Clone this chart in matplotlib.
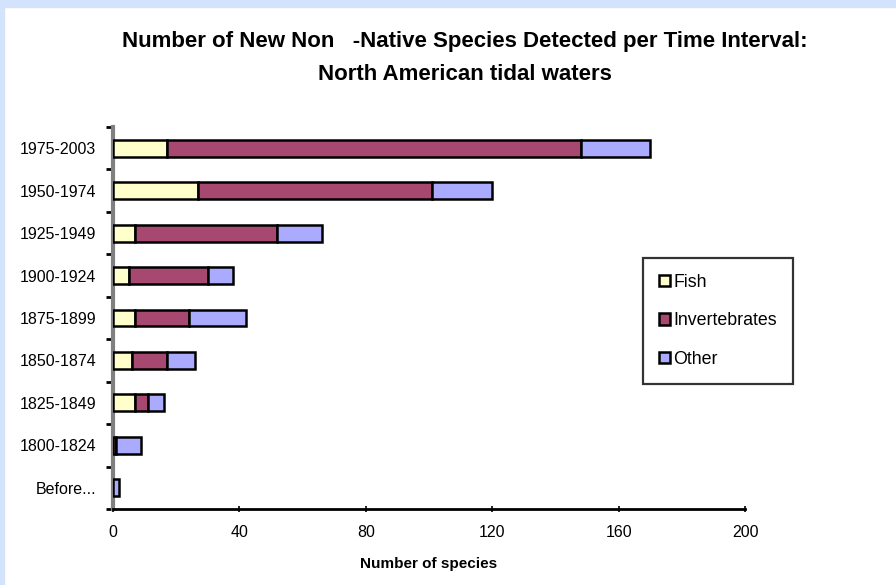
import matplotlib
matplotlib.use("Agg")
import matplotlib.pyplot as plt
from matplotlib.patches import Rectangle
import numpy as np

plt.rcParams['font.family'] = ['Liberation Sans', 'DejaVu Sans']

# data (top to bottom)
periods = ["1975-2003", "1950-1974", "1925-1949", "1900-1924", "1875-1899",
           "1850-1874", "1825-1849", "1800-1824", "Before..."]
fish = [17, 27, 7, 5, 7, 6, 7, 0, 0]
invertebrates = [131, 74, 45, 25, 17, 11, 4, 1, 0]
other = [22, 19, 14, 8, 18, 9, 5, 8, 2]

fish_c = "#FFFFCC"
inv_c = "#A6486F"
oth_c = "#AAAAFF"

fig = plt.figure(figsize=(8.96, 5.85), dpi=100)
fig.patch.set_facecolor("white")
# light blue frame on top and left
fig.patches.append(Rectangle((0, 1 - 7 / 585), 1, 7 / 585, transform=fig.transFigure,
                             color="#D4E3FC", zorder=0))
fig.patches.append(Rectangle((0, 0), 4 / 896, 1, transform=fig.transFigure,
                             color="#D4E3FC", zorder=0))

ax = fig.add_axes([113 / 896, 1 - 509 / 585, 632 / 896, 382 / 585])

y = np.arange(len(periods))[::-1]
h = 0.4
left = np.zeros(len(periods))
for vals, col, name in [(fish, fish_c, "Fish"), (invertebrates, inv_c, "Invertebrates"),
                        (other, oth_c, "Other")]:
    v = np.array(vals, dtype=float)
    ax.barh(y, v, left=left, height=h, color=col, edgecolor="black", linewidth=1.8,
            label=name, zorder=3)
    left += v

ax.set_xlim(0, 200)
ax.set_ylim(-0.5, len(periods) - 0.5)
ax.set_xticks([0, 40, 80, 120, 160, 200])
ax.set_yticks(y)
ax.set_yticklabels(periods)
ax.tick_params(axis='y', length=0, pad=12, labelsize=11.5)
ax.tick_params(axis='x', length=5, width=1.2, direction='inout', pad=9, labelsize=11.5)
# minor ticks between categories on the y axis
ax.set_yticks(np.arange(-0.5, len(periods), 1), minor=True)
ax.tick_params(axis='y', which='minor', length=5, width=2, direction='out', color='black')

for s in ["top", "right"]:
    ax.spines[s].set_visible(False)
ax.spines["left"].set_color("#808080")
ax.spines["left"].set_linewidth(3)
ax.spines["bottom"].set_color("black")
ax.spines["bottom"].set_linewidth(2)

ax.set_xlabel("Number of species", fontsize=11, fontweight="bold", labelpad=12)

fig.text(465 / 896, 1 - 58 / 585,
         "Number of New Non   -Native Species Detected per Time Interval:\nNorth American tidal waters",
         ha="center", va="center", fontsize=16, fontweight="bold", linespacing=1.75)

leg = ax.legend(loc="upper left", bbox_to_anchor=(530 / 632, 1 - (258 - 127) / 382),
                frameon=True, fancybox=False, fontsize=12.8, handlelength=0.6,
                handleheight=0.6, handletextpad=0.2, labelspacing=1.2,
                borderpad=0.9, borderaxespad=0)
leg.get_frame().set_edgecolor("black")
leg.get_frame().set_linewidth(1.6)

fig.savefig("out.png", dpi=100)
